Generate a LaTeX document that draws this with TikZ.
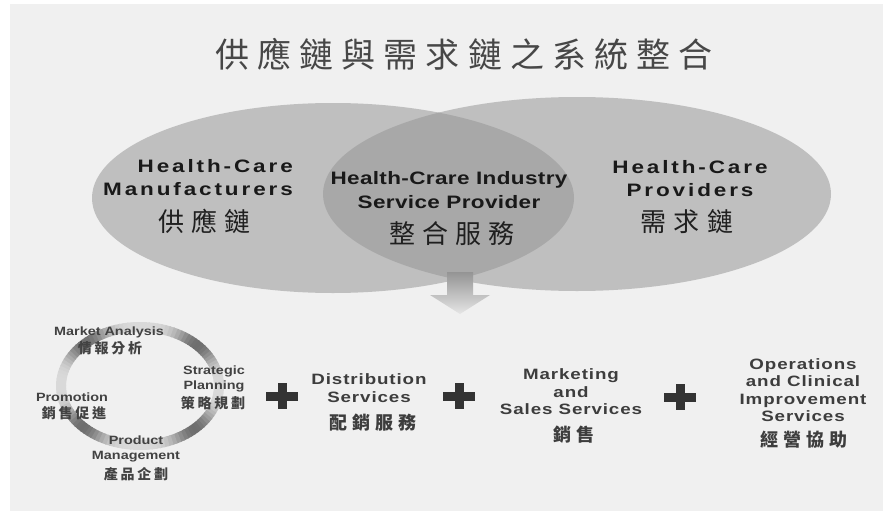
\documentclass[tikz,border=0pt]{standalone}
\usepackage{fontspec}
\setmainfont{Liberation Sans}
% CJK families, spaced out like the reference
\newfontfamily\titlecjk[LetterSpace=24]{Noto Sans CJK TC}
\newfontfamily\ovalcjk[LetterSpace=27]{Noto Sans CJK TC}
\newfontfamily\subcjk[LetterSpace=28]{Noto Sans CJK TC}
\newfontfamily\ringcjk[LetterSpace=20]{Noto Sans CJK TC}
% Latin families, a little wide
\newfontfamily\ovalfont[FakeStretch=1.25,LetterSpace=16]{Liberation Sans}
\newfontfamily\midfont[FakeStretch=1.25,LetterSpace=2]{Liberation Sans}
\newfontfamily\subfont[FakeStretch=1.25,LetterSpace=6]{Liberation Sans}
\newfontfamily\ringfont[FakeStretch=1.2]{Liberation Sans}
\usetikzlibrary{positioning}

\begin{document}
\begin{tikzpicture}[
    x=1pt, y=-1pt,
    % Core styles
    panel/.style={fill=black!6, draw=none},
    oval/.style={fill=black!25, draw=none},
    overlap/.style={fill=black!34, draw=none},
    ringseg/.style={draw=black!#1, line width=10pt},
    plus/.style={draw=black!80, line width=9pt},
    titletext/.style={inner sep=0pt, text=black!72,
        font=\titlecjk\fontsize{34}{38}\selectfont},
    ovaltext/.style={inner sep=0pt, text=black!90,
        font=\ovalfont\bfseries\fontsize{18}{23}\selectfont},
    midtext/.style={inner sep=0pt, text=black!90, align=center,
        font=\midfont\bfseries\fontsize{18}{24}\selectfont},
    ovalzh/.style={inner sep=0pt, text=black!88,
        font=\ovalcjk\fontsize{26}{30}\selectfont},
    subtext/.style={inner sep=0pt, text=black!76, align=center,
        font=\subfont\bfseries\fontsize{15}{17.5}\selectfont},
    subzh/.style={inner sep=0pt, text=black!76,
        font=\subcjk\bfseries\fontsize{18}{21}\selectfont},
    ringtext/.style={inner sep=0pt, text=black!74, align=center,
        font=\ringfont\bfseries\fontsize{12}{15}\selectfont},
    ringzh/.style={inner sep=0pt, text=black!74,
        font=\ringcjk\bfseries\fontsize{14}{16}\selectfont}
]

% === CANVAS ===
\useasboundingbox (0,0) rectangle (883,511);
\fill[white] (0,0) rectangle (883,511);
\fill[panel] (10,4) rectangle (883,511);

% === TITLE ===
\node[titletext] (title) at (464,54) {供應鏈與需求鏈之系統整合};

% === VENN OVALS (supply chain / demand chain) ===
\fill[oval] (333,198) ellipse [x radius=241, y radius=95];
\fill[oval] (577,194) ellipse [x radius=254, y radius=97];
\begin{scope}
    \clip (333,198) ellipse [x radius=241, y radius=95];
    \fill[overlap] (577,194) ellipse [x radius=254, y radius=97];
\end{scope}

% Oval labels
\node[ovaltext, align=right, anchor=east] (maker) at (293,178) {Health-Care\\Manufacturers};
\node[ovalzh] (makerzh) at (205,221) {供應鏈};

\node[midtext] (service) at (449,190) {Health-Crare Industry\\Service Provider};
\node[ovalzh] (servicezh) at (452,234) {整合服務};

\node[ovaltext, align=center] (provider) at (690,179) {Health-Care\\Providers};
\node[ovalzh] (providerzh) at (687,222) {需求鏈};

% === DOWN ARROW (shaded) ===
\shade[top color=black!42, bottom color=black!10]
    (447,272) -- (473,272) -- (473,295) -- (490,295)
    -- (460,314) -- (430,295) -- (447,295) -- cycle;

% === MARKETING CYCLE RING ===
% metallic look: dark patches at the four diagonals, light in between
\foreach \a in {0,3,...,357} {
    \pgfmathsetmacro\lev{15+42*((1+cos(4*(\a-45)))/2)^2}
    \draw[ringseg=\lev] (140,386) ++(\a:79 and 59)
        arc[start angle=\a, end angle=\a+4, x radius=79, y radius=59];
}

\node[ringtext] (market) at (109,332) {Market Analysis};
\node[ringzh] (marketzh) at (110,348) {情報分析};
\node[ringtext] (strategy) at (214,379) {Strategic\\Planning};
\node[ringzh] (strategyzh) at (213,403) {策略規劃};
\node[ringtext] (promo) at (72,397) {Promotion};
\node[ringzh] (promozh) at (74,413) {銷售促進};
\node[ringtext] (product) at (136,449) {Product\\Management};
\node[ringzh] (productzh) at (136,474) {產品企劃};

% === PLUS SIGNS ===
\foreach \px/\py in {282/396, 459/396, 680/397} {
    \draw[plus] (\px-16,\py) -- (\px+16,\py) (\px,\py-13) -- (\px,\py+13);
}

% === SERVICE BLOCKS ===
\node[subtext] (distrib) at (369,388) {Distribution\\Services};
\node[subzh] (distribzh) at (373,423) {配銷服務};

\node[subtext] (sales) at (571,392) {Marketing\\and\\Sales Services};
\node[subzh] (saleszh) at (574,435) {銷售};

\node[subtext] (ops) at (803,390) {Operations\\and Clinical\\Improvement\\Services};
\node[subzh] (opszh) at (804,440) {經營協助};

\end{tikzpicture}
\end{document}
